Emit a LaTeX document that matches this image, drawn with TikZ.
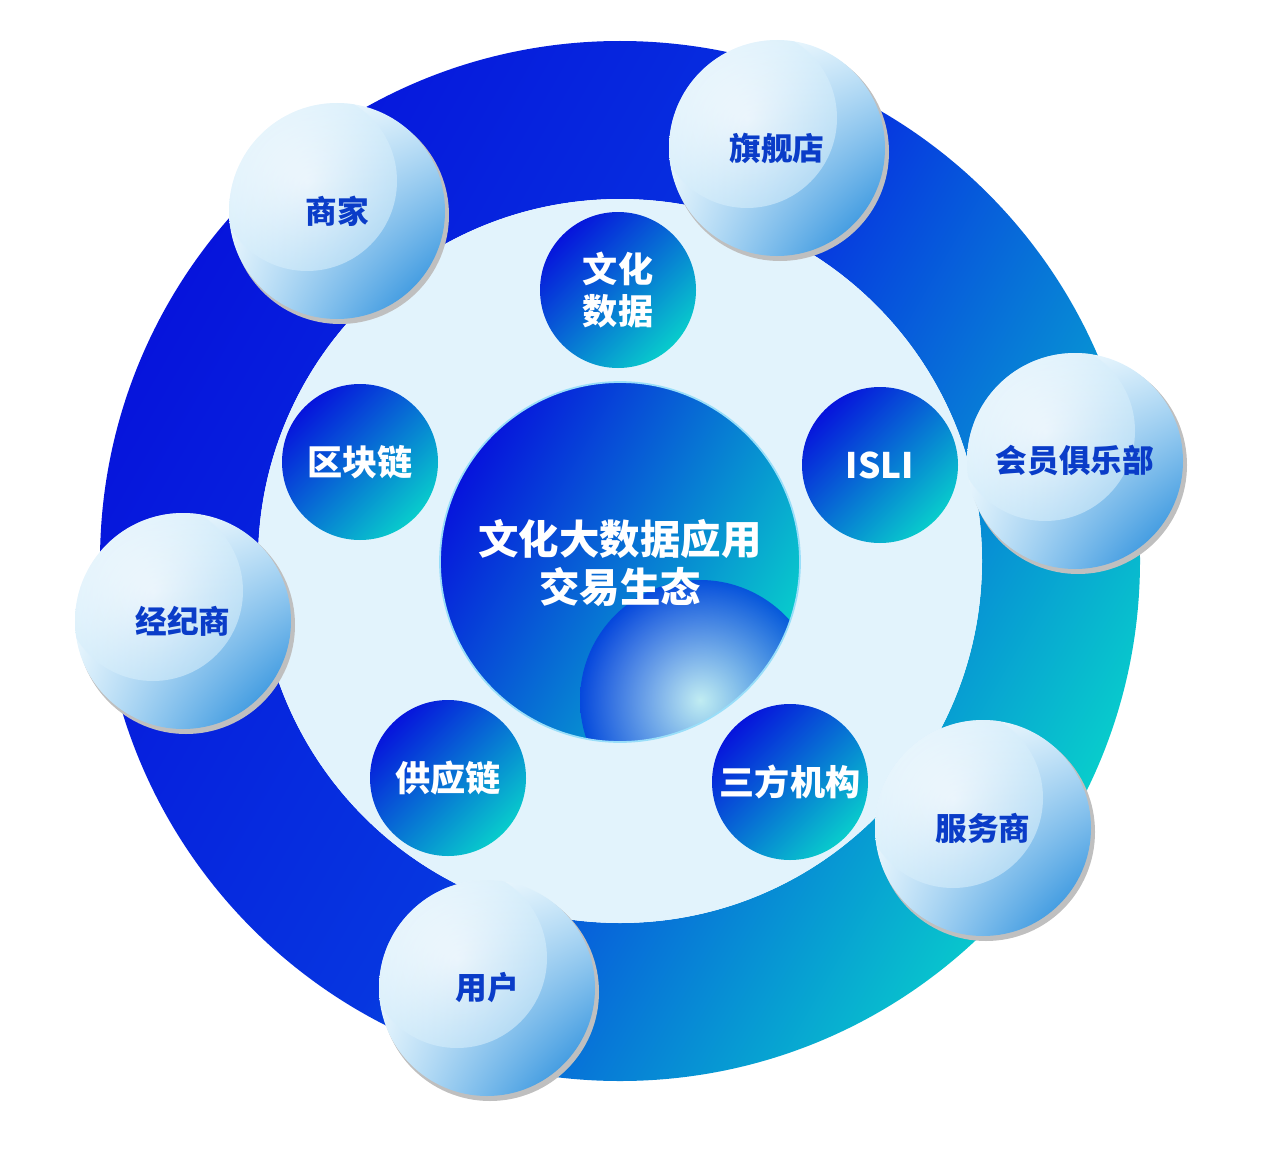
\documentclass[tikz,border=0pt]{standalone}
\usepackage{fontspec}
\newfontfamily\cjk{Noto Sans CJK SC}
\usetikzlibrary{shadings}
\definecolor{dblue}{HTML}{0614DC}
\definecolor{mblue}{HTML}{0636E0}
\definecolor{teal}{HTML}{08CCCC}
\definecolor{pale}{HTML}{E2F3FC}
\definecolor{txtblue}{HTML}{0A3CC8}
\definecolor{bubblue}{HTML}{1080D8}
\definecolor{bubpale}{HTML}{D6EEFB}
\tikzset{
  bub/.style={circle,text=txtblue,font=\cjk\bfseries\fontsize{18}{21}\selectfont,align=center},
}
\begin{document}
\begin{tikzpicture}[x=0.02cm,y=-0.02cm]
\useasboundingbox (0,0) rectangle (1261,1149);
% ring
\shade[even odd rule,left color=dblue,right color=teal,middle color=mblue,shading angle=60]
  (620,561) circle (520) (620,561) circle (362);
\fill[pale] (620,561) circle (362);
% center
\shade[left color=dblue,right color=teal,shading angle=60] (620,562) circle (180);
\begin{scope}
\clip (620,562) circle (180);
\shade[inner color=white,outer color=white!0!mblue,opacity=0.75] (700,700) circle (120);
\end{scope}
\draw[cyan!40,line width=1pt] (620,562) circle (180);
\node[text=white,font=\cjk\bfseries\fontsize{23}{27}\selectfont,align=center] (c) at (620,563) {文化大数据应用\\交易生态};
% inner circles
\foreach \n/\x/\y/\t in {a/618/290/{文化\\数据},b/360/462/区块链,d/880/465/ISLI,e/448/778/供应链,f/790/782/三方机构}{
  \shade[left color=dblue,right color=teal,shading angle=45] (\x,\y) circle (78);
  \node[text=white,font=\cjk\bfseries\fontsize{20}{24}\selectfont,align=center] (\n) at (\x,\y) {\t};
}
% bubbles
\foreach \n/\x/\y/\t in {s1/337/211/商家,s2/777/148/旗舰店,s3/1075/461/会员俱乐部,s4/183/621/经纪商,s5/983/828/服务商,s6/487/988/用户}{
  \fill[black!25] (\x+3,\y+4) circle (109);
  \begin{scope}
  \clip (\x,\y) circle (108);
  \shade[upper left=white,lower right=bubblue,upper right=bubpale,lower left=bubpale] (\x-108,\y-108) rectangle (\x+108,\y+108);
  \shade[inner color=white,outer color=white!0!bubpale,opacity=0.6] (\x-30,\y-30) circle (90);
  \end{scope}
  \node[bub] (\n) at (\x,\y) {\t};
}
\end{tikzpicture}
\end{document}
